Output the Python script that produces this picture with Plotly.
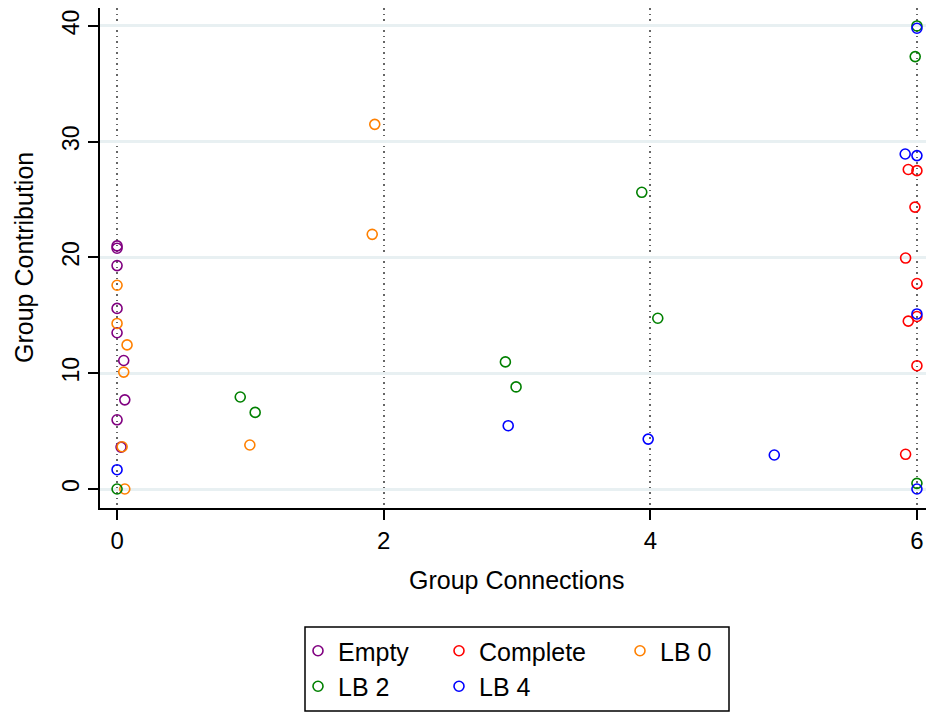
import plotly.graph_objects as go

# ---- data ----
empty_x = [0, 0, 0, 0, 0, 0.05, 0.058, 0, 0.03]
empty_y = [21.0, 20.8, 19.3, 15.6, 13.5, 11.1, 7.7, 5.98, 3.62]

complete_x = [5.935, 6, 5.985, 5.915, 6, 6, 5.935, 6, 5.915]
complete_y = [27.6, 27.5, 24.35, 19.95, 17.75, 14.9, 14.5, 10.65, 3.0]

lb0_x = [0, 0, 0.075, 0.05, 0.038, 0.058, 0.996, 1.914, 1.933]
lb0_y = [17.6, 14.3, 12.45, 10.1, 3.65, 0, 3.8, 22.0, 31.5]

lb2_x = [0, 0.924, 1.036, 2.913, 2.993, 3.936, 4.056, 5.987, 6, 6]
lb2_y = [0, 7.95, 6.62, 10.98, 8.82, 25.63, 14.75, 37.35, 40.0, 0.49]

lb4_x = [0, 2.934, 3.984, 4.93, 5.912, 6, 6, 6, 6]
lb4_y = [1.67, 5.47, 4.31, 2.94, 28.94, 28.8, 15.12, 39.8, 0]

x_ticks = [0, 2, 4, 6]
y_ticks = [0, 10, 20, 30, 40]

x_title = "Group Connections"
y_title = "Group Contribution"

FONT = "Liberation Sans, Arial, Helvetica, sans-serif"

series = [
    ("Empty", empty_x, empty_y, "#800080", "legend"),
    ("Complete", complete_x, complete_y, "#FF0000", "legend2"),
    ("LB 0", lb0_x, lb0_y, "#FF8000", "legend3"),
    ("LB 2", lb2_x, lb2_y, "#008000", "legend"),
    ("LB 4", lb4_x, lb4_y, "#0000FF", "legend2"),
]

fig = go.Figure()
for name, xs, ys, col, lg in series:
    fig.add_trace(go.Scatter(
        x=xs, y=ys, mode="markers", name=name, legend=lg,
        marker=dict(symbol="circle-open", size=10, color=col,
                    line=dict(width=1.6, color=col)),
        cliponaxis=False,
    ))

W, H = 926, 713
L, R, T, B = 100, 0, 8, 205
PW, PH = W - L - R, H - T - B

legend_common = dict(
    orientation="v", xref="container", yref="container",
    xanchor="left", yanchor="top",
    font=dict(family=FONT, size=25, color="black"),
    bgcolor="rgba(0,0,0,0)", borderwidth=0,
    tracegroupgap=0, itemwidth=30,
)

fig.update_layout(
    width=W, height=H,
    margin=dict(l=L, r=R, t=T, b=B, autoexpand=False),
    paper_bgcolor="white", plot_bgcolor="white",
    font=dict(family=FONT, size=24, color="black"),
    showlegend=True,
    legend=dict(x=298 / W, y=1 - 628 / H, **legend_common),
    legend2=dict(x=439 / W, y=1 - 628 / H, **legend_common),
    legend3=dict(x=620 / W, y=1 - 628 / H, **legend_common),
    xaxis=dict(
        range=[-0.128, 6.068], tickvals=x_ticks,
        ticks="outside", ticklen=10, tickwidth=1.5, tickcolor="black",
        showline=True, linecolor="black", linewidth=1.5,
        showgrid=True, gridcolor="#666666", griddash="1.5px,4px", gridwidth=1.5,
        zeroline=False, automargin=False,
        tickfont=dict(size=24),
    ),
    yaxis=dict(
        range=[-1.64, 41.55], tickvals=y_ticks,
        ticks="outside", ticklen=10, tickwidth=1.5, tickcolor="black",
        showline=True, linecolor="black", linewidth=1.5,
        showgrid=True, gridcolor="#E8F0F2", gridwidth=2.5,
        zeroline=False, tickangle=-90, automargin=False,
        tickfont=dict(size=23),
    ),
)

# axis titles
fig.add_annotation(text=x_title, xref="paper", yref="paper",
                   x=(516 - L) / PW, y=(H - B - 580) / PH,
                   showarrow=False, font=dict(size=25),
                   xanchor="center", yanchor="middle")
fig.add_annotation(text=y_title, xref="paper", yref="paper",
                   x=(24 - L) / PW, y=(H - B - 258) / PH,
                   showarrow=False, font=dict(size=25), textangle=-90,
                   xanchor="center", yanchor="middle")

# legend frame
fig.add_shape(type="rect", xref="paper", yref="paper",
              x0=(305 - L) / PW, x1=(729 - L) / PW,
              y0=(H - B - 711) / PH, y1=(H - B - 627) / PH,
              line=dict(color="black", width=1.5), fillcolor="rgba(0,0,0,0)")

fig.write_html("out.html",
               config={"displayModeBar": False},
               post_script="document.body.style.margin='0';document.body.style.overflow='hidden';")
